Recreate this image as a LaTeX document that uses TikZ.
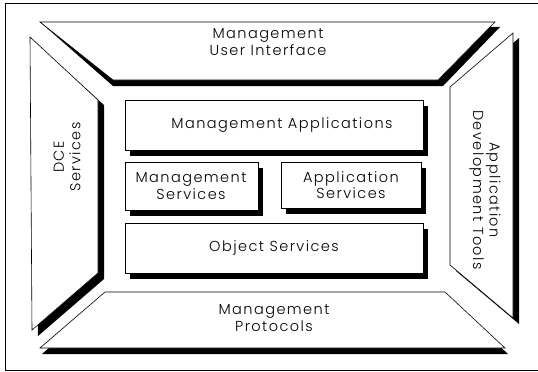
\documentclass[tikz,border=0pt]{standalone}
\usepackage{fontspec}
\setmainfont{Poppins}[UprightFont={* Light},LetterSpace=10]
\begin{document}
\begin{tikzpicture}[x=1pt,y=-1pt,
  panel/.style={draw=black,line width=0.6pt,fill=white},
  shade/.style={fill=black},
  lbl/.style={align=center,font=\fontsize{14.5}{16.5}\selectfont,inner sep=0pt}]
\useasboundingbox (0,0) rectangle (538,372);
% outer frame
\draw[line width=0.6pt] (540,3) -- (5,3) -- (5,370) -- (540,370);

% top panel: user interface
\fill[shade] (40,22) -- (500,27) -- (443,86) -- (113,86) -- cycle;
\draw[panel] (40,22) -- (495,22) -- (438,80) -- (113,80) -- cycle;
% left panel: DCE services
\fill[shade] (34,42) -- (104,105) -- (104,279) -- (38,336) -- cycle;
\draw[panel] (30,37) -- (98,100) -- (98,273) -- (32,330) -- cycle;
% right panel: development tools
\fill[shade] (519,38) -- (456,92) -- (456,271) -- (519,324) -- cycle;
\draw[panel] (513,33) -- (450,87) -- (450,265) -- (513,318) -- cycle;
% bottom panel: protocols
\fill[shade] (107,297) -- (447,297) -- (508,354) -- (42,354) -- cycle;
\draw[panel] (105,292) -- (445,292) -- (505,348) -- (40,348) -- cycle;

% inner boxes with drop shadows
\fill[shade] (130,106) rectangle (428,156);
\draw[panel] (125,100) rectangle (423,150);
\fill[shade] (130,168) rectangle (263,216);
\draw[panel] (125,162) rectangle (258,210);
\fill[shade] (286,168) rectangle (426,214);
\draw[panel] (281,162) rectangle (421,208);
\fill[shade] (130,229) rectangle (428,279);
\draw[panel] (125,223) rectangle (423,273);

% labels
\node[lbl] (ui)  at (268,42)  {Management\\User Interface};
\node[lbl] (ma)  at (282,125) {Management Applications};
\node[lbl] (ms)  at (191,186) {Management\\Services};
\node[lbl] (as)  at (351,185) {Application\\Services};
\node[lbl] (os)  at (274,248) {Object Services};
\node[lbl] (mp)  at (274,318) {Management\\Protocols};
\node[lbl,rotate=90]  (dce) at (67,157) {DCE\\Services};
\node[lbl,rotate=-90] (adt) at (485,190) {Application\\Development Tools};
\end{tikzpicture}
\end{document}
